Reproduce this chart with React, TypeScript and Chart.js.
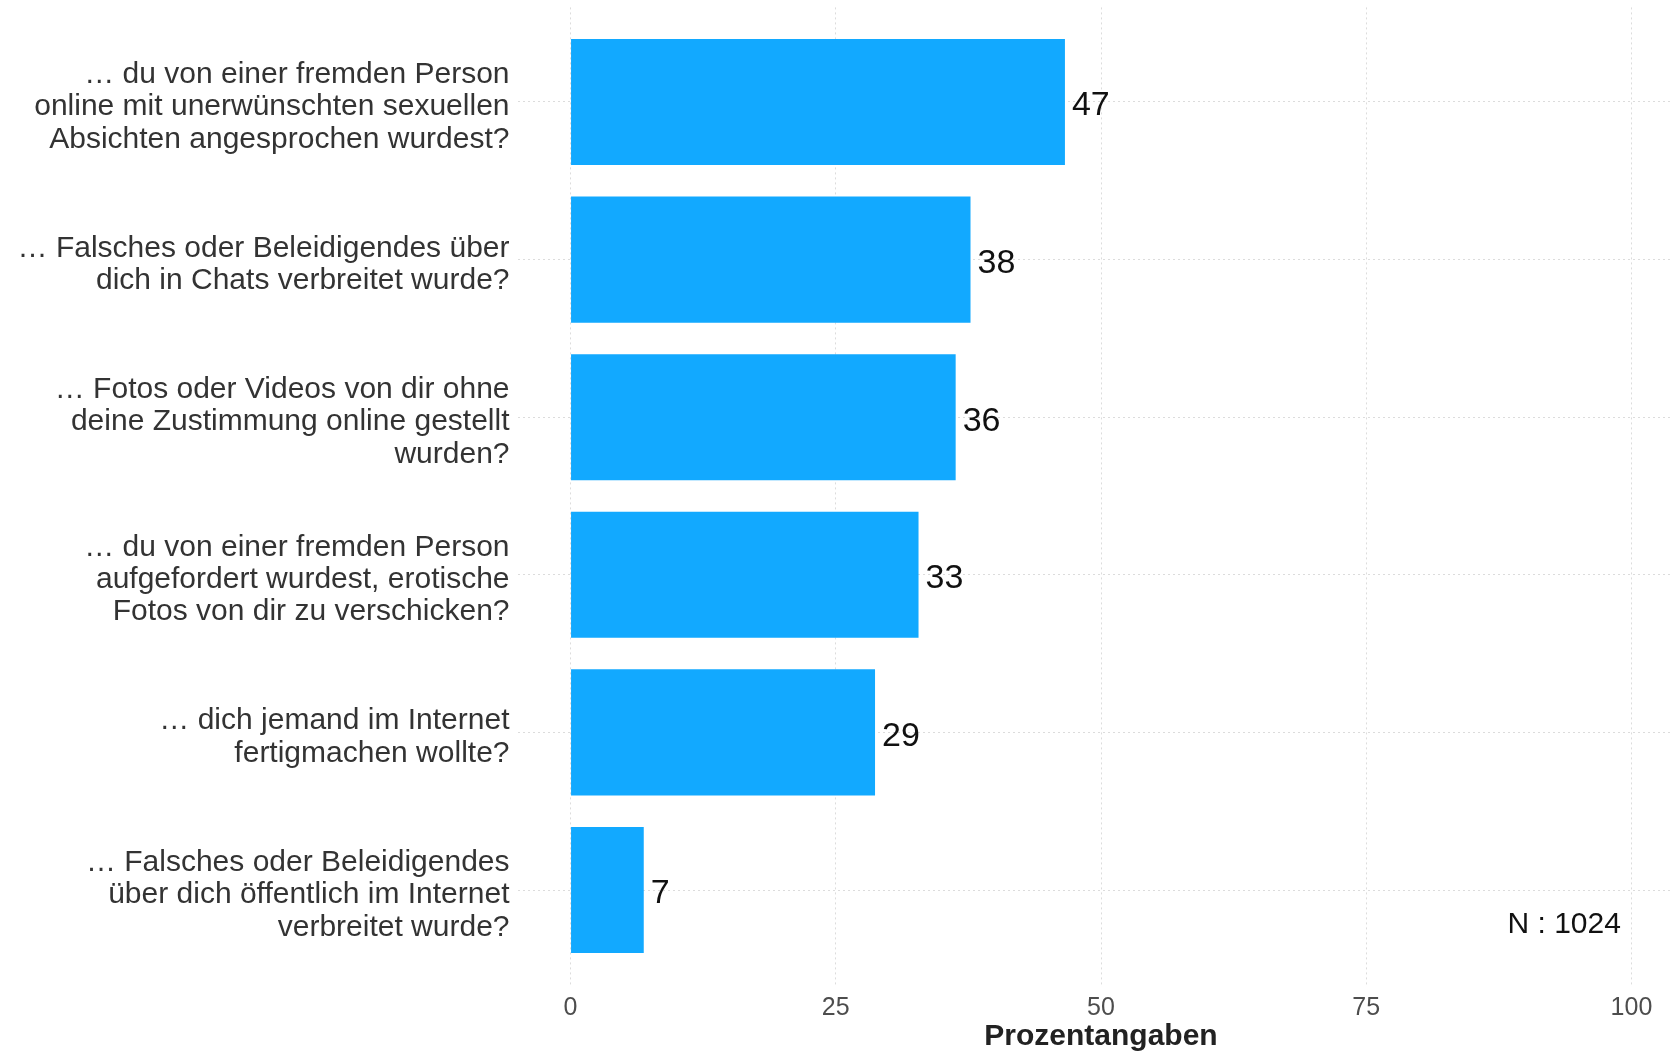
import React, { useEffect, useRef } from "react";
import { Chart, registerables } from "chart.js";

Chart.register(...registerables);

const categories: string[][] = [
  ["… du von einer fremden Person", "online mit unerwünschten sexuellen", "Absichten angesprochen wurdest?"],
  ["… Falsches oder Beleidigendes über", "dich in Chats verbreitet wurde?"],
  ["… Fotos oder Videos von dir ohne", "deine Zustimmung online gestellt", "wurden?"],
  ["… du von einer fremden Person", "aufgefordert wurdest, erotische", "Fotos von dir zu verschicken?"],
  ["… dich jemand im Internet", "fertigmachen wollte?"],
  ["… Falsches oder Beleidigendes", "über dich öffentlich im Internet", "verbreitet wurde?"],
];
const positions = [1, 2, 3, 4, 5, 6];
const values = [46.6, 37.7, 36.3, 32.8, 28.7, 6.9];
const valueLabels = ["47", "38", "36", "33", "29", "7"];
const xTicks = [0, 25, 50, 75, 100];
const sampleNote = "N : 1024";
const xTitle = "Prozentangaben";

const FONT = "'Liberation Sans', Arial, Helvetica, sans-serif";

export default function App() {
  const ref = useRef<HTMLCanvasElement | null>(null);
  useEffect(() => {
    if (!ref.current) return;
    const labelPlugin = {
      id: "valueLabels",
      afterDatasetsDraw(chart: any) {
        const ctx = chart.ctx;
        const meta = chart.getDatasetMeta(0);
        ctx.save();
        ctx.font = `34px ${FONT}`;
        ctx.fillStyle = "#111";
        ctx.textAlign = "left";
        ctx.textBaseline = "middle";
        meta.data.forEach((bar: any, i: number) => {
          ctx.fillText(valueLabels[i], bar.x + 7, bar.y + 4);
        });
        const xs = chart.scales.x;
        const ys = chart.scales.y;
        ctx.font = `30px ${FONT}`;
        ctx.textAlign = "right";
        ctx.fillText(sampleNote, xs.getPixelForValue(99), ys.getPixelForValue(6.2) + 3);
        ctx.font = `bold 30px ${FONT}`;
        ctx.fillStyle = "#222";
        ctx.textAlign = "center";
        ctx.fillText(xTitle, xs.getPixelForValue(50), 1037);
        ctx.restore();
      },
    };
    const chart = new Chart(ref.current, {
      type: "bar",
      data: {
        datasets: [
          {
            data: values.map((v, i) => ({ x: v, y: positions[i] })),
            backgroundColor: "#12A9FF",
            borderWidth: 0,
            barPercentage: 0.8,
            categoryPercentage: 1,
          },
        ],
      },
      options: {
        indexAxis: "y",
        animation: false,
        responsive: false,
        devicePixelRatio: 1,
        layout: { padding: { top: 7.4, right: 0, bottom: 0, left: 0 } },
        plugins: { legend: { display: false }, tooltip: { enabled: false } },
        scales: {
          x: {
            type: "linear",
            min: -5,
            max: 103.82,
            offset: false,
            afterBuildTicks: (s: any) => {
              s.ticks = xTicks.map((v) => ({ value: v }));
            },
            afterFit: (s: any) => {
              s.height = 69.4;
              s.paddingLeft = 0;
              s.paddingRight = 0;
            },
            grid: { color: "#dcdcdc", lineWidth: 1, drawTicks: false, offset: false },
            border: { display: false, dash: [2, 3] },
            ticks: {
              padding: 9,
              color: "#4d4d4d",
              font: { family: FONT, size: 25 },
              maxRotation: 0,
              autoSkip: false,
            },
            title: { display: false },
          },
          y: {
            type: "linear",
            reverse: true,
            min: 0.4,
            max: 6.6,
            offset: false,
            afterBuildTicks: (s: any) => {
              s.ticks = positions.map((v) => ({ value: v }));
            },
            afterFit: (s: any) => {
              s.width = 517.5;
              s.paddingTop = 0;
              s.paddingBottom = 0;
            },
            grid: { color: "#dcdcdc", lineWidth: 1, drawTicks: false, offset: false },
            border: { display: false, dash: [2, 3] },
            ticks: {
              padding: 8,
              labelOffset: 5,
              color: "#333",
              autoSkip: false,
              font: { family: FONT, size: 30, lineHeight: 1.08 },
              callback: (v: any) => categories[positions.indexOf(Number(v))],
            },
          },
        },
      },
      plugins: [labelPlugin],
    } as any);
    return () => chart.destroy();
  }, []);
  return (
    <div style={{ position: "fixed", left: 0, top: 0, width: 1672, height: 1054, background: "#fff" }}>
      <canvas ref={ref} width={1672} height={1054} />
    </div>
  );
}
